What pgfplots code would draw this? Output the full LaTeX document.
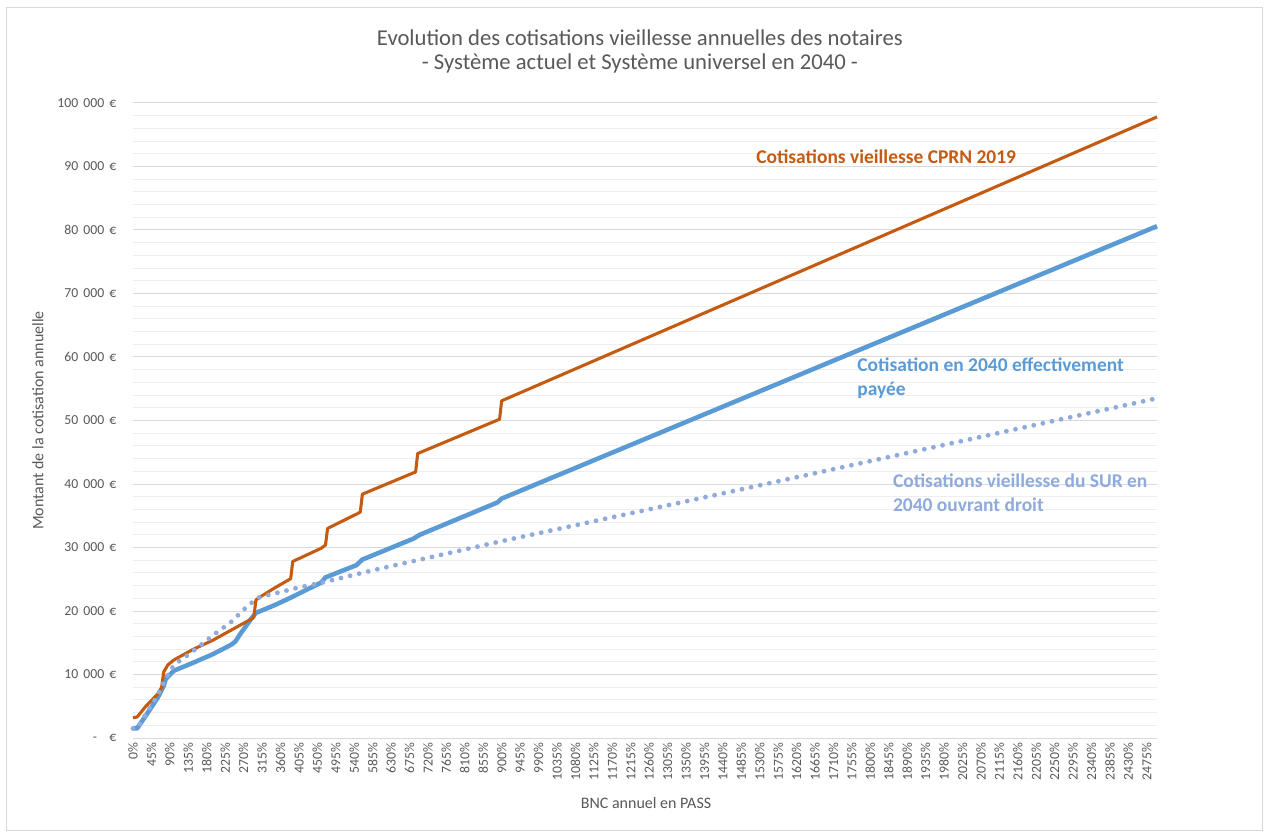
\documentclass[border=0pt]{standalone}
\usepackage{fontspec}
\setmainfont{Carlito}
\usepackage{pgfplots}
\pgfplotsset{compat=1.18}
\definecolor{cprn}{HTML}{C55A11}
\definecolor{paye}{HTML}{5B9BD5}
\definecolor{sur}{HTML}{8FAADC}
\definecolor{txt}{HTML}{595959}
\definecolor{majgrid}{HTML}{D9D9D9}
\definecolor{mingrid}{HTML}{EEEEEE}
\newcommand{\ts}{\hspace{0.37em}}
\begin{document}
\begin{tikzpicture}
\useasboundingbox (-99.75pt,-70.5pt) rectangle (849.75pt,553.5pt);
\fill[white] (-99.75pt,-70.5pt) rectangle (849.75pt,553.5pt);
\draw[majgrid, line width=0.75pt] (-94.5pt,-69.5pt) rectangle (846.75pt,547.5pt);
\begin{axis}[
  scale only axis, width=768pt, height=476.25pt,
  xmin=0, xmax=2500, ymin=0, ymax=100000,
  scaled y ticks=false,
  axis line style={draw=none},
  tick style={draw=none},
  xtick={0,45,...,2475},
  xticklabel={\pgfmathprintnumber[assume math mode=true,fixed,precision=0,1000 sep={}]{\tick}\%},
  ytick={0,10000,...,100000},
  yticklabels={{-\hspace{0.9em}€},{10\ts000\ts€},{20\ts000\ts€},{30\ts000\ts€},{40\ts000\ts€},{50\ts000\ts€},{60\ts000\ts€},{70\ts000\ts€},{80\ts000\ts€},{90\ts000\ts€},{100\ts000\ts€}},
  minor y tick num=4,
  ymajorgrids, yminorgrids,
  major grid style={majgrid, line width=0.75pt},
  minor grid style={mingrid, line width=0.75pt},
  ticklabel style={font=\fontsize{10.3}{12}\selectfont, text=txt},
  xticklabel style={rotate=90, anchor=east},
  yticklabel style={xshift=-9pt},
  xlabel={BNC annuel en PASS},
  ylabel={Montant de la cotisation annuelle},
  label style={font=\fontsize{12}{14}\selectfont, text=txt},
  xlabel style={at={(axis description cs:0.501,-0.1024)}, anchor=center},
  ylabel style={at={(axis description cs:-0.0928,0.5)}, anchor=center},
  title={Evolution des cotisations vieillesse annuelles des notaires\\- Système actuel et Système universel en 2040 -},
  title style={at={(axis description cs:0.495,1.0678)}, anchor=center, align=center, font=\fontsize{17}{18}\selectfont, text=txt},
  clip=false,
]
\addplot[paye, line width=3.4pt, line join=round] coordinates {
(0,1500) (10,1500) (30,3400) (60,6300) (75,8200) (80,9300) (95,10300) (100,10600)
(145,11800) (195,13200) (240,14700) (250,15200) (260,16200) (290,18900) (300,19700)
(345,20900) (385,22100) (460,24500) (470,25300) (545,27200) (560,28100) (685,31400)
(700,32000) (890,37100) (900,37700) (2500,80600)
};
\addplot[cprn, line width=2.3pt, line join=round] coordinates {
(0,3200) (10,3300) (30,4900) (60,6900) (70,8000) (75,10400) (85,11500) (100,12300)
(145,13900) (195,15400) (240,17000) (285,18600) (295,19000) (300,21700) (305,22000)
(345,23600) (380,24900) (385,25100) (390,27800) (460,29900) (470,30400) (475,33000)
(550,35400) (555,35600) (560,38400) (690,41900) (695,44800) (895,50200) (900,53100)
(2500,97800)
};
\addplot[sur, line width=3.6pt, line cap=round, dash pattern=on 0pt off 7pt] coordinates {
(0,1500) (10,1500) (30,3600) (60,6700) (80,9400) (100,11500) (145,13600) (200,16400)
(240,18300) (275,20500) (295,21600) (310,22200) (335,22600) (405,23700) (450,24300)
(540,25700) (605,26700) (900,31000) (1460,38800) (2500,53500)
};
\draw[majgrid, line width=0.75pt] (rel axis cs:0,0) -- (rel axis cs:1,0);
\node[anchor=west, inner sep=0pt, font=\bfseries\fontsize{14.6}{18}\selectfont, text=cprn] at (axis cs:1521,91500) {Cotisations vieillesse CPRN 2019};
\node[anchor=west, inner sep=0pt, align=left, font=\bfseries\fontsize{14.6}{18}\selectfont, text=paye] at (axis cs:1768,56700) {Cotisation en 2040 effectivement\\payée};
\node[anchor=west, inner sep=0pt, align=left, font=\bfseries\fontsize{14.6}{18}\selectfont, text=sur] at (axis cs:1855,38700) {Cotisations vieillesse du SUR en\\2040 ouvrant droit};
\end{axis}
\end{tikzpicture}
\end{document}
